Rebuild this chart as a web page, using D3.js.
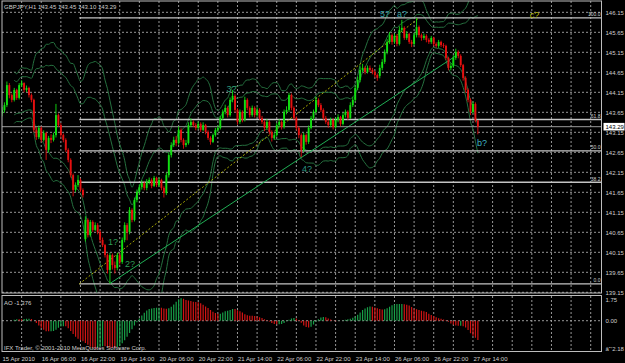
<html>
<head>
<script src="https://d3js.org/d3.v7.min.js"></script>
<style>
body{margin:0;background:#000;}
text{font-family:"Liberation Sans",Arial,sans-serif;font-size:6px;fill:#cfcfcf;}
.wave{font-size:9px;}
</style>
</head>
<body>
<script>
// GBPJPY H1, 15 Apr 14:00 .. 27 Apr 16:00
const closes = [143.70,143.83,144.33,144.08,143.96,144.21,144.01,144.33,144.38,144.21,
144.26,144.08,143.96,143.21,143.03,143.26,142.96,143.13,142.71,143.01,
142.96,143.08,143.58,143.33,143.08,142.96,142.71,142.46,142.08,141.71,
141.83,141.96,141.71,141.58,140.96,140.58,140.91,140.71,140.83,140.66,
140.46,140.33,140.08,139.71,140.08,139.83,139.76,140.08,139.91,140.46,
140.83,140.66,141.21,140.96,141.46,141.66,141.78,141.88,141.76,141.91,
141.96,141.81,142.01,141.83,141.96,141.76,141.63,142.08,142.58,142.83,
142.96,142.88,143.21,142.96,142.83,142.88,143.33,143.41,143.33,143.26,
143.36,143.21,143.33,143.16,143.01,142.91,143.08,143.21,143.26,143.51,
143.66,143.76,143.58,143.96,144.06,143.71,143.41,143.66,143.46,143.96,
143.76,143.58,143.76,143.58,143.71,143.51,143.41,143.26,143.41,143.16,
143.01,143.08,143.33,143.41,143.28,143.66,143.71,144.08,143.76,143.51,
143.26,143.08,142.71,143.08,142.91,143.26,143.51,143.66,143.96,143.83,
143.71,143.51,143.41,143.33,143.46,143.28,143.46,143.53,143.36,143.58,
143.66,143.51,143.83,143.96,144.26,144.46,144.71,144.76,144.66,144.76,
144.71,144.66,144.58,144.51,144.76,144.91,145.16,145.41,145.58,145.41,
145.56,145.36,145.71,145.76,145.51,145.61,145.41,145.36,145.58,145.78,
145.58,145.51,145.56,145.46,145.41,145.51,145.36,145.31,145.41,145.33,
145.31,145.01,144.76,144.81,145.01,145.16,145.06,144.83,144.51,144.21,
143.96,143.66,143.86,143.45,143.29];
const highs = [143.78,143.90,144.42,144.38,144.12,144.26,144.24,144.38,144.45,144.40,
144.32,144.29,144.12,143.99,143.28,143.32,143.30,143.20,143.16,143.06,
143.10,143.14,143.86,143.62,143.38,143.12,143.00,142.75,142.50,142.12,
141.90,142.08,142.00,141.75,141.05,141.00,140.96,140.95,140.90,140.88,
140.70,140.52,140.36,140.12,140.14,140.12,139.92,140.14,140.12,140.52,
140.90,140.88,141.28,141.25,141.52,141.72,141.85,141.95,141.92,141.98,
142.02,142.00,142.06,142.04,142.02,141.99,141.80,142.14,142.64,142.90,
143.04,143.06,143.30,143.25,143.00,142.96,143.40,143.50,143.45,143.38,
143.42,143.40,143.40,143.36,143.20,143.05,143.12,143.26,143.32,143.56,
143.72,143.84,143.80,144.02,144.21,144.10,143.75,143.72,143.70,144.04,
144.00,143.80,143.82,143.80,143.78,143.75,143.56,143.45,143.48,143.45,
143.20,143.14,143.38,143.48,143.45,143.72,143.80,144.14,144.12,143.80,
143.55,143.30,143.12,143.14,143.12,143.32,143.56,143.72,144.04,144.00,
143.88,143.75,143.56,143.46,143.52,143.50,143.52,143.60,143.56,143.64,
143.72,143.70,143.90,144.04,144.32,144.54,144.80,144.86,144.80,144.82,
144.82,144.76,144.70,144.62,144.84,144.98,145.22,145.48,145.66,145.62,
145.62,145.60,145.80,145.96,145.80,145.68,145.64,145.46,145.64,146.01,
145.82,145.62,145.62,145.60,145.50,145.56,145.54,145.40,145.46,145.44,
145.38,145.34,145.04,144.88,145.08,145.24,145.20,145.10,144.86,144.55,
144.25,144.00,143.92,143.90,143.45];
const lows = [143.55,143.64,143.78,144.00,143.90,143.92,143.96,143.97,144.28,144.15,
144.16,144.02,143.90,143.15,142.96,142.98,142.90,142.92,142.46,142.65,
142.88,142.92,143.02,143.28,143.02,142.90,142.66,142.40,142.02,141.55,
141.66,141.78,141.66,141.52,140.42,140.52,140.54,140.66,140.68,140.60,
140.40,140.28,140.02,139.62,139.37,139.72,139.62,139.70,139.84,139.86,
140.40,140.45,140.60,140.90,140.92,141.40,141.60,141.72,141.70,141.70,
141.85,141.75,141.78,141.78,141.78,141.70,141.52,141.58,142.02,142.52,
142.78,142.80,142.84,142.90,142.74,142.78,142.84,143.28,143.28,143.20,
143.22,143.16,143.18,143.10,142.96,142.84,142.88,143.04,143.16,143.22,
143.46,143.60,143.52,143.54,143.90,143.64,143.34,143.36,143.40,143.42,
143.70,143.52,143.54,143.52,143.54,143.46,143.36,143.18,143.22,143.10,
142.92,142.96,143.04,143.28,143.22,143.24,143.60,143.66,143.70,143.46,
143.20,143.00,142.53,142.66,142.84,142.86,143.22,143.46,143.62,143.78,
143.66,143.46,143.36,143.26,143.28,143.22,143.24,143.40,143.30,143.32,
143.52,143.46,143.48,143.78,143.92,144.20,144.40,144.66,144.60,144.62,
144.66,144.60,144.52,144.44,144.50,144.70,144.86,145.10,145.36,145.34,
145.36,145.30,145.32,145.66,145.46,145.46,145.36,145.28,145.32,145.52,
145.52,145.44,145.46,145.40,145.36,145.36,145.30,145.26,145.26,145.28,
145.26,144.96,144.70,144.70,144.76,144.96,145.00,144.78,144.44,144.14,
143.90,143.58,143.62,143.40,143.10];
// opens follow the previous close except where the picture shows a gap
const openGaps = [[0,143.62],[34,140.48],[154,144.56]];

const priceTicks = [139.15,139.65,140.15,140.65,141.15,141.65,142.15,142.65,143.15,143.65,144.15,144.65,145.15,145.65,146.15];
const aoTicks = [1.75,0,-2.18];
const dateBars = [0,16,32,48,64,80,96,112,128,144,160,176,192];
const dateLabels = ["15 Apr 2010","16 Apr 06:00","16 Apr 22:00","19 Apr 14:00","20 Apr 06:00","20 Apr 22:00",
  "21 Apr 14:00","22 Apr 06:00","22 Apr 22:00","23 Apr 14:00","26 Apr 06:00","26 Apr 22:00","27 Apr 14:00"];

// fibo from the low to the high, and the trend line under the lows
const fiboLow = [31.5,139.36], fiboHigh = [170,146.01];
const fiboLevels = ["0.0","38.2","50.0","61.8","100.0"];
const trendLine = [[44,139.37],[185,145.06]];
const waves = [
  {t:"1?",b:43.2,p:140.33,c:"#2f9d55"},{t:"2?",b:50.1,p:139.78,c:"#2f9d55"},
  {t:"3?",b:91.5,p:144.16,c:"#2f9a78"},{t:"4?",b:122.3,p:142.16,c:"#2b9480"},
  {t:"5?",b:154.1,p:146.03,c:"#2f9fa0"},{t:"a?",b:161,p:146.03,c:"#2f9fa0"},
  {t:"b?",b:193.6,p:142.81,c:"#3fb4c4"},{t:"c?",b:215.2,p:146.01,c:"#b8b800"}];
const lastInfo = "GBPJPY,H1  143.45 143.45 143.10 143.29";
const aoInfo = "AO -1.376";

const W = 625, H = 363;
const pLeft = 2, pRight = 601.5, pTop = 1, mainBottom = 293, aoTop = 296, aoBottom = 351.5;

const n = closes.length;
const opens = closes.map((c,i)=> i>0 ? closes[i-1] : c);
openGaps.forEach(g=>{opens[g[0]] = g[1];});
const data = d3.range(n).map(i=>({i:i,o:opens[i],h:highs[i],l:lows[i],c:closes[i]}));

const x = d3.scaleLinear().domain([0,244.4]).range([pLeft,pRight]);
const y = d3.scaleLinear().domain([139.1325,146.4325]).range([mainBottom,pTop]);
const ya = d3.scaleLinear().domain([-2.18,1.75]).range([aoBottom,aoTop]);

const svg = d3.select("body").append("svg").attr("width",W).attr("height",H)
  .style("background","#000");

const defs = svg.append("defs");
defs.append("clipPath").attr("id","clipMain").append("rect")
  .attr("x",pLeft).attr("y",pTop).attr("width",pRight-pLeft).attr("height",mainBottom-pTop);
defs.append("clipPath").attr("id","clipAo").append("rect")
  .attr("x",pLeft).attr("y",aoTop).attr("width",pRight-pLeft).attr("height",aoBottom-aoTop);

//grid
const grid = svg.append("g").attr("stroke","#a8a8a8").attr("stroke-dasharray","2,2").attr("stroke-width",0.9);
grid.selectAll("line.h").data(priceTicks).enter().append("line")
  .attr("x1",pLeft).attr("x2",pRight).attr("y1",d=>y(d)).attr("y2",d=>y(d));
grid.append("line").attr("x1",pLeft).attr("x2",pRight).attr("y1",ya(0)).attr("y2",ya(0));
d3.range(8,245,8).forEach(b=>{
  grid.append("line").attr("x1",x(b)).attr("x2",x(b)).attr("y1",pTop).attr("y2",mainBottom);
  grid.append("line").attr("x1",x(b)).attr("x2",x(b)).attr("y1",aoTop).attr("y2",aoBottom);
});

const main = svg.append("g").attr("clip-path","url(#clipMain)");

//bollinger bands
function bands(period,dev){
  const up=[],lo=[];
  for(let i=5;i<n;i++){
    const w = closes.slice(Math.max(0,i-period+1),i+1);
    const m = d3.mean(w), s = Math.sqrt(d3.mean(w,v=>(v-m)*(v-m)));
    up.push([i,m+dev*s]); lo.push([i,m-dev*s]);
  }
  return [up,lo];
}
const line = d3.line().x(d=>x(d[0])).y(d=>y(d[1])).curve(d3.curveMonotoneX);
[[20,2],[20,3]].forEach(p=>{
  bands(p[0],p[1]).forEach(b=>{
    main.append("path").attr("d",line(b)).attr("fill","none")
      .attr("stroke","#26703f").attr("stroke-width",1);
  });
});

//fibo levels
const fr = fiboHigh[1]-fiboLow[1];
main.selectAll("line.fib").data(fiboLevels).enter().append("line")
  .attr("x1",x(fiboLow[0])).attr("x2",pRight)
  .attr("y1",d=>y(fiboLow[1]+fr*(+d)/100)).attr("y2",d=>y(fiboLow[1]+fr*(+d)/100))
  .attr("stroke","#c4c4c4").attr("stroke-width",1.4);
main.append("line")
  .attr("x1",x(fiboLow[0])).attr("y1",y(fiboLow[1]))
  .attr("x2",x(fiboHigh[0])).attr("y2",y(fiboHigh[1]))
  .attr("stroke","#b8b800").attr("stroke-dasharray","2,2").attr("stroke-width",0.9);
main.selectAll("text.fib").data(fiboLevels).enter().append("text")
  .attr("x",pRight-1).attr("y",d=>y(fiboLow[1]+fr*(+d)/100)-1.5)
  .attr("text-anchor","end").style("font-size","5px").text(d=>d);

//trend line
main.append("line")
  .attr("x1",x(trendLine[0][0])).attr("y1",y(trendLine[0][1]))
  .attr("x2",x(trendLine[1][0])).attr("y2",y(trendLine[1][1]))
  .attr("stroke","#1fae54").attr("stroke-width",1);

//current price line
main.append("line").attr("x1",pLeft).attr("x2",pRight)
  .attr("y1",y(closes[n-1])).attr("y2",y(closes[n-1]))
  .attr("stroke","#9c9c9c").attr("stroke-width",1);

//candles
const candles = main.append("g");
candles.selectAll("line").data(data).enter().append("line")
  .attr("x1",d=>x(d.i)).attr("x2",d=>x(d.i))
  .attr("y1",d=>y(d.h)).attr("y2",d=>y(d.l))
  .attr("stroke",d=>d.c>=d.o?"#11e011":"#e51010").attr("stroke-width",0.9);
candles.selectAll("rect").data(data).enter().append("rect")
  .attr("x",d=>x(d.i)-0.95).attr("width",1.9)
  .attr("y",d=>y(Math.max(d.o,d.c)))
  .attr("height",d=>Math.max(0.8,Math.abs(y(d.o)-y(d.c))))
  .attr("fill",d=>d.c>=d.o?"#11e011":"#e51010");

//wave labels
main.selectAll("text.wave").data(waves).enter().append("text")
  .attr("class","wave").attr("x",d=>x(d.b)).attr("y",d=>y(d.p))
  .style("fill",d=>d.c).text(d=>d.t);

//awesome oscillator
const med = data.map(d=>(d.h+d.l)/2);
const sma = (k,i)=>d3.mean(med.slice(Math.max(0,i-k+1),i+1));
const ao = med.map((m,i)=>sma(5,i)-sma(34,i));
svg.append("g").attr("clip-path","url(#clipAo)")
  .selectAll("line").data(ao).enter().append("line")
  .attr("x1",(d,i)=>x(i)).attr("x2",(d,i)=>x(i))
  .attr("y1",ya(0)).attr("y2",d=>ya(d))
  .attr("stroke",(d,i)=>i>0&&d<ao[i-1]?"#d01414":"#18a048").attr("stroke-width",1.2);

//frames
svg.append("rect").attr("x",pLeft).attr("y",pTop).attr("width",pRight-pLeft).attr("height",mainBottom-pTop)
  .attr("fill","none").attr("stroke","#bdbdbd").attr("stroke-width",1);
svg.append("rect").attr("x",pLeft).attr("y",aoTop-0.5).attr("width",pRight-pLeft).attr("height",aoBottom-aoTop+0.5)
  .attr("fill","none").attr("stroke","#bdbdbd").attr("stroke-width",1);

//axes
const yAxis = d3.axisRight(y).tickValues(priceTicks).tickSize(0).tickPadding(4).tickFormat(d3.format(".2f"));
svg.append("g").attr("transform","translate("+pRight+",0)").call(yAxis).call(g=>g.select(".domain").remove())
  .selectAll("text").style("font-size","6px").attr("fill","#cfcfcf");
const aoAxis = d3.axisRight(ya).tickValues(aoTicks).tickSize(0).tickPadding(4).tickFormat(d3.format(".2f"));
svg.append("g").attr("transform","translate("+pRight+",0)").call(aoAxis).call(g=>g.select(".domain").remove())
  .selectAll("text").style("font-size","6px").attr("fill","#cfcfcf")
  .attr("y",d=>d===aoTicks[0]?4:(d===aoTicks[2]?-2.5:0));
const xAxis = d3.axisBottom(x).tickValues(dateBars).tickSize(0).tickPadding(0)
  .tickFormat((d,i)=>dateLabels[i]);
svg.append("g").attr("transform","translate(0,"+(aoBottom+5)+")").call(xAxis)
  .call(g=>g.select(".domain").remove())
  .selectAll("text").attr("text-anchor","start").style("font-size","6px").attr("fill","#cfcfcf");

//current price tag
const cp = svg.append("g").attr("transform","translate("+(pRight+2)+","+y(closes[n-1])+")");
cp.append("rect").attr("x",0).attr("y",-3.8).attr("width",21).attr("height",7.6).attr("fill","#fff");
cp.append("text").attr("x",2).attr("y",2.2).style("fill","#000").text(d3.format(".2f")(closes[n-1]));

//info texts
svg.append("text").attr("x",4).attr("y",8.5).text(lastInfo);
svg.append("text").attr("x",4).attr("y",304.5).text(aoInfo);
svg.append("text").attr("x",4).attr("y",350).text("IFX Trader, \u00a9 2001-2010 MetaQuotes Software Corp.");
</script>
</body>
</html>
